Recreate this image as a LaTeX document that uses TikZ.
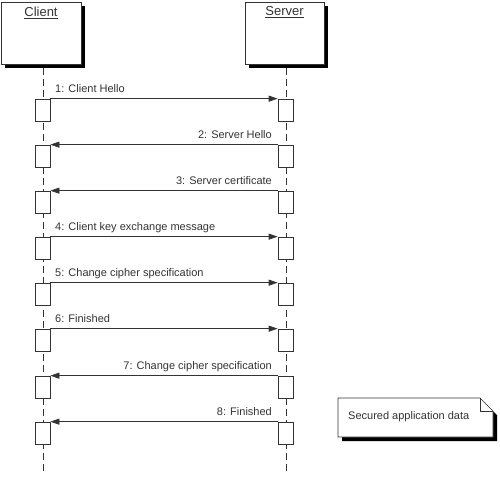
\documentclass[tikz,border=0pt]{standalone}
\usepackage{fontspec}
\setmainfont{Liberation Sans}
\usetikzlibrary{arrows.meta,shadows}
\definecolor{ink}{gray}{0.2}
\begin{document}
\begin{tikzpicture}[x=1pt,y=-1pt,
 head/.style={draw=ink, fill=white, line width=0.8pt, minimum width=80pt, minimum height=62pt, inner sep=0pt,
   drop shadow={shadow xshift=4pt, shadow yshift=-4pt, fill=black, opacity=1}},
 hlbl/.style={font=\fontsize{13}{15}\selectfont, text=ink, inner sep=0pt, anchor=north, yshift=-5pt},
 act/.style={draw=ink, fill=white, line width=0.7pt, minimum width=15pt, minimum height=22pt, inner sep=0pt},
 life/.style={draw=ink, line width=0.7pt, dash pattern=on 7pt off 4pt},
 msg/.style={draw=ink, line width=0.7pt, -{Triangle[length=9pt,width=6pt]}},
 lbl/.style={font=\fontsize{11}{13}\selectfont, text=ink, inner sep=0pt},
]
\useasboundingbox (0,0) rectangle (500,477);

% headers
\node[head, label={[hlbl]north:\underline{Client}}] (client) at (41,33) {};
\node[head, minimum width=79pt, label={[hlbl]north:\underline{Server}}] (server) at (284.5,33) {};

% lifelines
\coordinate (cend) at (43,475);
\coordinate (send) at (286,475);
\draw[life] ([yshift=-4pt]client.south -| cend) -- (cend);
\draw[life] ([yshift=-4pt]server.south -| send) -- (send);

% activation boxes
\foreach \i/\y in {1/99,2/145,3/191,4/237,5/283,6/329,7/376,8/422}{
  \node[act] (c\i) at (42.5,\y+11) {};
  \node[act] (s\i) at (285.5,\y+11) {};
}

% messages
\draw[msg] (c1.north east) -- (s1.north west);
\node[lbl, anchor=base west] (m1) at (55,92) {1: Client Hello};
\draw[msg] (s2.north west) -- (c2.north east);
\node[lbl, anchor=base east] (m2) at (272,138) {2: Server Hello};
\draw[msg] (s3.north west) -- (c3.north east);
\node[lbl, anchor=base east] (m3) at (272,184) {3: Server certificate};
\draw[msg] (c4.north east) -- (s4.north west);
\node[lbl, anchor=base west] (m4) at (55,230) {4: Client key exchange message};
\draw[msg] (c5.north east) -- (s5.north west);
\node[lbl, anchor=base west] (m5) at (55,276) {5: Change cipher specification};
\draw[msg] (c6.north east) -- (s6.north west);
\node[lbl, anchor=base west] (m6) at (55,322) {6: Finished};
\draw[msg] (s7.north west) -- (c7.north east);
\node[lbl, anchor=base east] (m7) at (272,369) {7: Change cipher specification};
\draw[msg] (s8.north west) -- (c8.north east);
\node[lbl, anchor=base east] (m8) at (272,415) {8: Finished};

% note
\fill[black] (342,402) -- (484,402) -- (497,415) -- (497,441) -- (342,441) -- cycle;
\draw[ink, fill=white, line width=0.7pt] (338,398) -- (480,398) -- (493,411) -- (493,437) -- (338,437) -- cycle;
\draw[ink, line width=0.7pt] (480,398) -- (480,411) -- (493,411);
\node[lbl, anchor=west] (note) at (348,417) {Secured application data};
\end{tikzpicture}
\end{document}
